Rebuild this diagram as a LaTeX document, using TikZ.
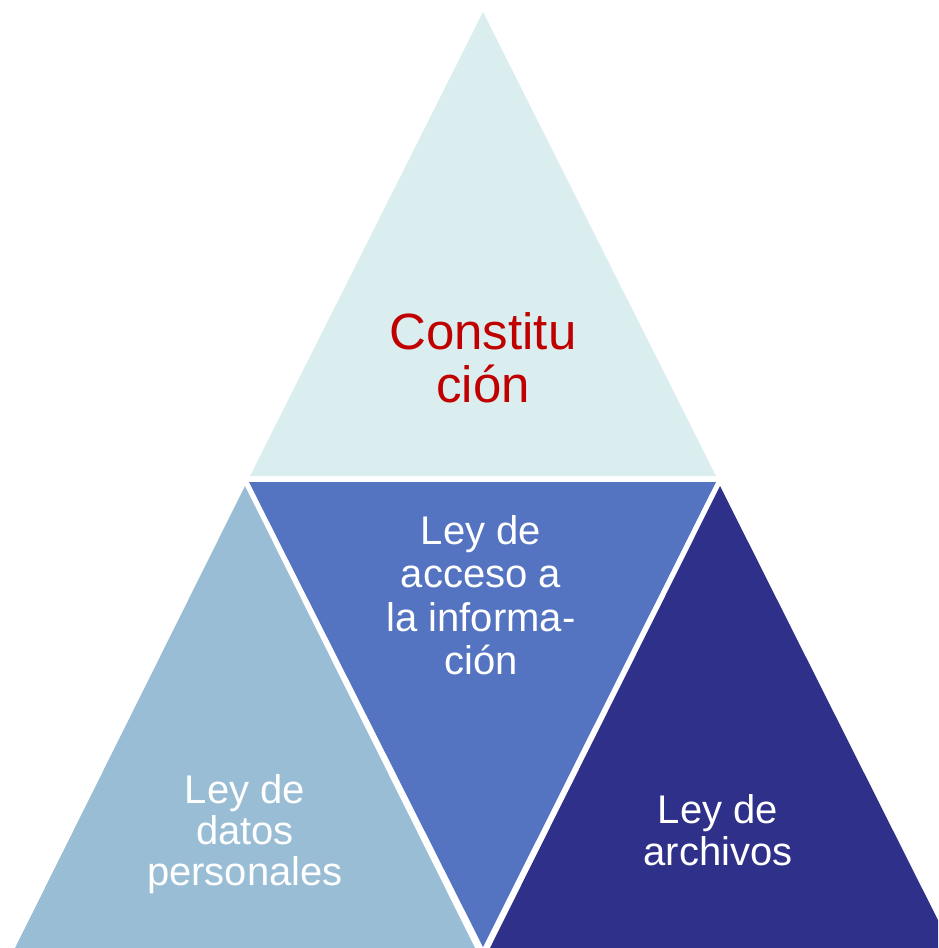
\documentclass[tikz,border=0pt]{standalone}
\usepackage{fontspec}
\setmainfont{Liberation Sans}
\definecolor{topfill}{HTML}{DAEDEF}
\definecolor{midfill}{HTML}{5474C1}
\definecolor{leftfill}{HTML}{9ABDD6}
\definecolor{rightfill}{HTML}{2E3089}
\definecolor{redtext}{HTML}{C00000}
\tikzset{
  txt/.style={anchor=base, inner sep=0pt, font=\fontsize{40}{43}\selectfont, text=white},
  bigtxt/.style={anchor=base, inner sep=0pt, font=\fontsize{51}{53}\selectfont, text=redtext}
}
\begin{document}
\begin{tikzpicture}[x=1pt,y=-1pt]
\useasboundingbox (0,0) rectangle (938,948);
\clip (0,0) rectangle (938,948);
% triangles
\fill[topfill] (483,12) -- (250,476) -- (716,476) -- cycle;
\fill[midfill] (249,482) -- (716,482) -- (483,947) -- cycle;
\fill[leftfill] (245,486) -- (15,948) -- (475,948) -- cycle;
\fill[rightfill] (720,486) -- (490,948) -- (952,948) -- cycle;
% texts
\node[bigtxt] (c1) at (483,349) {Constitu};
\node[bigtxt] (c2) at (483,402) {ción};
\node[txt] (m1) at (481,544) {Ley de};
\node[txt] (m2) at (481,587) {acceso a};
\node[txt] (m3) at (481,631) {la informa-};
\node[txt] (m4) at (481,674) {ción};
\node[txt] (l1) at (245,803) {Ley de};
\node[txt] (l2) at (245,844) {datos};
\node[txt] (l3) at (245,885) {personales};
\node[txt] (r1) at (718,823) {Ley de};
\node[txt] (r2) at (718,865) {archivos};
\end{tikzpicture}
\end{document}
